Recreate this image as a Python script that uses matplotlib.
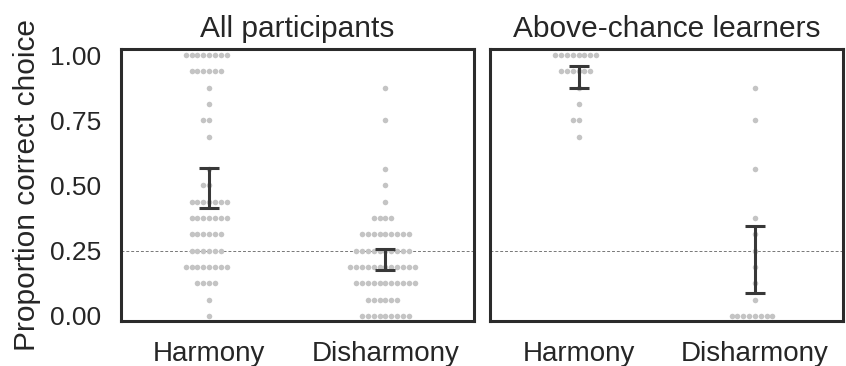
import numpy as np
import pandas as pd
import matplotlib
matplotlib.use("Agg")
import matplotlib.pyplot as plt
import seaborn as sns

# proportion levels (16 trials) and number of participants at each level
levels = np.arange(17) / 16.0

all_harmony_counts = [1, 1, 4, 8, 6, 6, 7, 7, 2, 1, 0, 1, 2, 1, 1, 6, 8]
all_disharmony_counts = [9, 6, 11, 12, 10, 9, 4, 1, 1, 1, 0, 0, 1, 0, 1, 0, 0]
learn_harmony_counts = [0, 0, 0, 0, 0, 0, 0, 0, 0, 0, 0, 1, 2, 1, 1, 6, 8]
learn_disharmony_counts = [8, 1, 1, 1, 1, 1, 1, 0, 0, 1, 0, 0, 1, 0, 1, 0, 0]

conditions = ["Harmony", "Disharmony"]
titles = ["All participants", "Above-chance learners"]

# 95% CI bounds (low, high) per panel, per condition
ci_all = [(0.414, 0.567), (0.176, 0.257)]
ci_learn = [(0.872, 0.959), (0.088, 0.346)]

chance = 0.25


def make_df(h_counts, d_counts):
    h = np.repeat(levels, h_counts)
    d = np.repeat(levels, d_counts)
    return pd.DataFrame({
        "condition": ["Harmony"] * len(h) + ["Disharmony"] * len(d),
        "prop": np.concatenate([h, d]),
    })


panels = [
    (make_df(all_harmony_counts, all_disharmony_counts), ci_all),
    (make_df(learn_harmony_counts, learn_disharmony_counts), ci_learn),
]

sns.set_style("white")
plt.rcParams["font.family"] = ["Liberation Sans", "DejaVu Sans"]

fig, axes = plt.subplots(1, 2, figsize=(8.46, 3.66), dpi=100, sharey=True)
fig.subplots_adjust(left=0.143, right=0.9965, bottom=0.122, top=0.866, wspace=0.048)

for ax, (df, ci), title in zip(axes, panels, titles):
    ax.axhline(chance, color="#777777", lw=0.7, ls=(0, (3, 2)), zorder=0)
    sns.swarmplot(data=df, x="condition", y="prop", order=conditions,
                  color="#c4c4c4", size=4.0, ax=ax, zorder=1)
    for i, (lo, hi) in enumerate(ci):
        mid = (lo + hi) / 2
        ax.errorbar(i, mid, yerr=[[mid - lo], [hi - mid]], fmt="none",
                    ecolor="#383838", elinewidth=2.2, capsize=7.2,
                    capthick=2.2, zorder=3)
    ax.set_title(title, fontsize=21.5, pad=9)
    ax.set_xlabel("")
    ax.set_ylabel("")
    ax.set_xlim(-0.5, 1.5)
    ax.set_ylim(-0.021, 1.023)
    ax.tick_params(axis="x", length=0, labelsize=20, pad=14)
    ax.tick_params(axis="y", length=0, labelsize=19, pad=14)
    for s in ax.spines.values():
        s.set_color("#2b2b2b")
        s.set_linewidth(2.2)

axes[0].set_yticks([0, 0.25, 0.5, 0.75, 1.0])
axes[0].set_yticklabels(["0.00", "0.25", "0.50", "0.75", "1.00"])
axes[0].set_ylabel("Proportion correct choice", fontsize=21.5, labelpad=7)

fig.savefig("out.png", dpi=100)
